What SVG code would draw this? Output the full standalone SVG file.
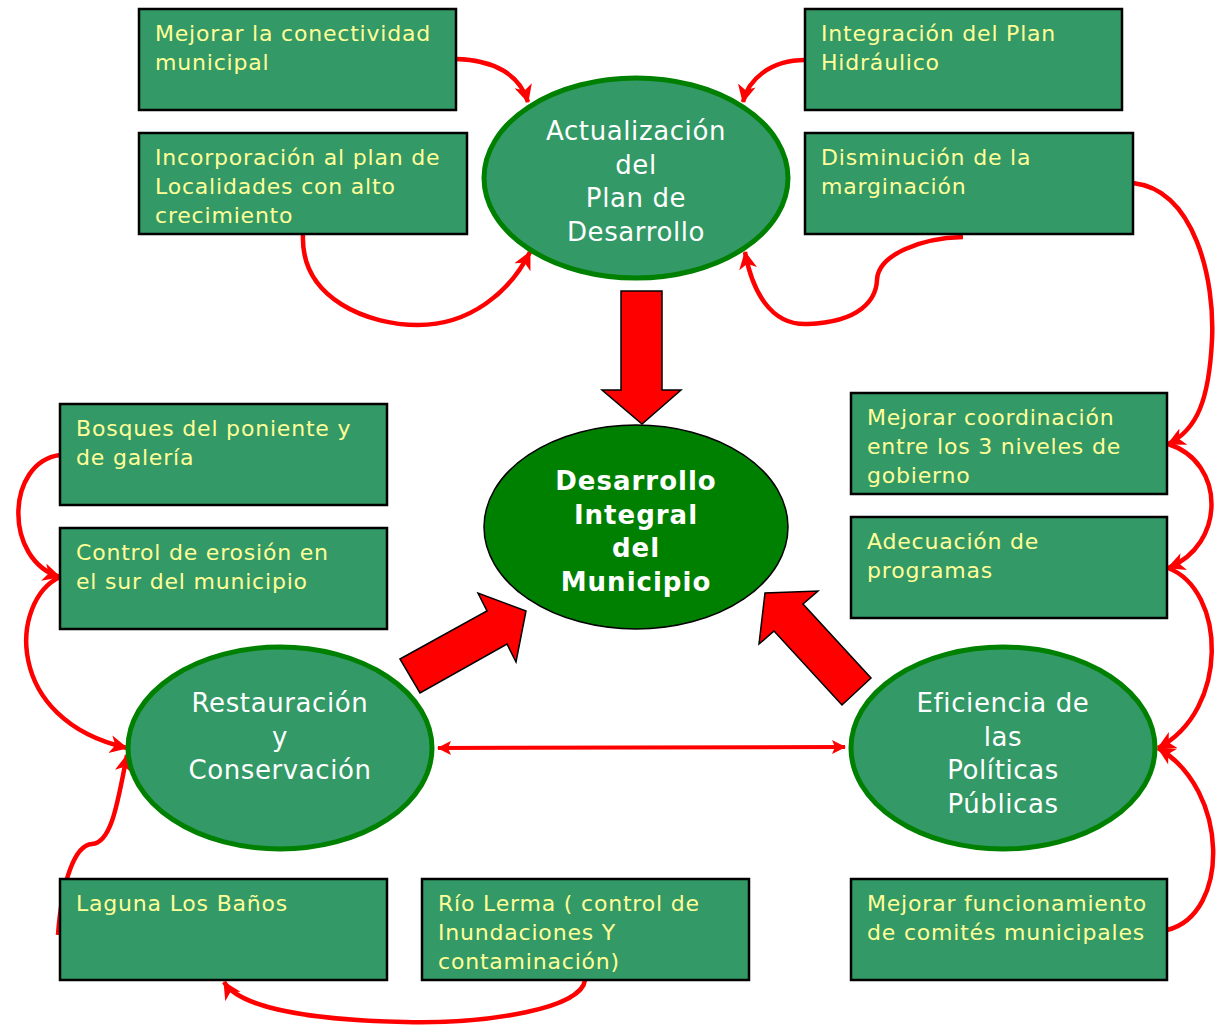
<svg xmlns="http://www.w3.org/2000/svg" width="1217" height="1026" viewBox="0 0 1217 1026">
<style>
.box{fill:#339966;stroke:#000;stroke-width:2.5}
.bt{font-family:"DejaVu Sans",Verdana,sans-serif;font-size:22px;letter-spacing:0.8px;fill:#FFFF99}
.ell{fill:#339966;stroke:#008000;stroke-width:5}
.et{font-family:"DejaVu Sans",Verdana,sans-serif;font-size:26px;letter-spacing:0.6px;fill:#fff;text-anchor:middle}
.ct{font-family:"DejaVu Sans",Verdana,sans-serif;font-size:26px;letter-spacing:1px;font-weight:bold;fill:#fff;text-anchor:middle}
.con{fill:none;stroke:#ff0000;stroke-width:4.5;marker-end:url(#ah)}
.big{fill:#ff0000;stroke:#000;stroke-width:1.5}
</style>
<defs>
<marker id="ah" markerUnits="userSpaceOnUse" markerWidth="22" markerHeight="20" refX="17" refY="9" orient="auto">
<path d="M0,0 L18,9 L0,18 L5,9 Z" fill="#ff0000"/>
</marker>
<marker id="ah2" markerUnits="userSpaceOnUse" markerWidth="16" markerHeight="14" refX="13" refY="7" orient="auto-start-reverse">
<path d="M0,0 L14,7 L0,14 L3,7 Z" fill="#ff0000"/>
</marker>
</defs>
<rect width="1217" height="1026" fill="#fff"/>
<g id="connectors">
<path class="con" d="M456,59 C495,60 520,75 528,102"/>
<path class="con" d="M805,60 C770,60 748,80 743,102"/>
<path class="con" d="M303,234 C300,300 370,325 418,325 C470,325 510,292 530,252"/>
<path class="con" d="M963,237 C920,238 878,255 877,280 C876,300 860,322 808,324 C770,326 752,290 745,252"/>
<path class="con" d="M1133,183 C1195,190 1215,280 1212,340 C1209,400 1197,430 1168,444"/>
<path class="con" d="M1168,444 C1226,462 1226,545 1168,568"/>
<path class="con" d="M1168,568 C1226,590 1230,710 1158,748"/>
<path class="con" d="M1167,930 C1230,915 1230,790 1158,748"/>
<path class="con" d="M60,455 C6,462 3,560 60,577"/>
<path class="con" d="M60,577 C10,600 3,720 127,748"/>
<path class="con" d="M58,935 C62,880 75,845 92,844 C112,843 118,800 127,755"/>
<path class="con" d="M585,980 C582,1008 490,1024 405,1022 C310,1020 240,1008 224,982"/>
<path d="M438,748 L845,747" fill="none" stroke="#ff0000" stroke-width="4" marker-start="url(#ah2)" marker-end="url(#ah2)"/>
<polygon class="big" points="621,291 662,291 662,390 681,390 642,424 602,390 621,390"/>
<polygon class="big" points="400,659 487,611 478,593 526,611 516,662 507,644 420,693"/>
<polygon class="big" points="759,644 765,593 818,591 803,604 871,678 842,705 774,631"/>
</g>
<g id="n-conectividad"><rect class="box" x="139" y="9" width="317" height="101"/><text class="bt" x="155" y="41">Mejorar la conectividad<tspan x="155" dy="29">municipal</tspan></text></g>
<g id="n-hidraulico"><rect class="box" x="805" y="9" width="317" height="101"/><text class="bt" x="821" y="41">Integración del Plan<tspan x="821" dy="29">Hidráulico</tspan></text></g>
<g id="n-localidades"><rect class="box" x="139" y="133" width="328" height="101"/><text class="bt" x="155" y="165">Incorporación al plan de<tspan x="155" dy="29">Localidades con alto</tspan><tspan x="155" dy="29">crecimiento</tspan></text></g>
<g id="n-marginacion"><rect class="box" x="805" y="133" width="328" height="101"/><text class="bt" x="821" y="165">Disminución de la<tspan x="821" dy="29">marginación</tspan></text></g>
<g id="n-coordinacion"><rect class="box" x="851" y="393" width="316" height="101"/><text class="bt" x="867" y="425">Mejorar coordinación<tspan x="867" dy="29">entre los 3 niveles de</tspan><tspan x="867" dy="29">gobierno</tspan></text></g>
<g id="n-programas"><rect class="box" x="851" y="517" width="316" height="101"/><text class="bt" x="867" y="549">Adecuación de<tspan x="867" dy="29">programas</tspan></text></g>
<g id="n-bosques"><rect class="box" x="60" y="404" width="327" height="101"/><text class="bt" x="76" y="436">Bosques del poniente y<tspan x="76" dy="29">de galería</tspan></text></g>
<g id="n-erosion"><rect class="box" x="60" y="528" width="327" height="101"/><text class="bt" x="76" y="560">Control de erosión en<tspan x="76" dy="29">el sur del municipio</tspan></text></g>
<g id="n-laguna"><rect class="box" x="60" y="879" width="327" height="101"/><text class="bt" x="76" y="911">Laguna Los Baños</text></g>
<g id="n-lerma"><rect class="box" x="422" y="879" width="327" height="101"/><text class="bt" x="438" y="911">Río Lerma ( control de<tspan x="438" dy="29">Inundaciones Y</tspan><tspan x="438" dy="29">contaminación)</tspan></text></g>
<g id="n-comites"><rect class="box" x="851" y="879" width="316" height="101"/><text class="bt" x="867" y="911">Mejorar funcionamiento<tspan x="867" dy="29">de comités municipales</tspan></text></g>
<g id="n-actualizacion"><ellipse class="ell" cx="636" cy="178" rx="152" ry="100"/><text class="et" x="636" y="140">Actualización<tspan x="636" dy="33.5">del</tspan><tspan x="636" dy="33.5">Plan de</tspan><tspan x="636" dy="33.5">Desarrollo</tspan></text></g>
<g id="n-desarrollo"><ellipse cx="636" cy="527" rx="152" ry="102" fill="#008000" stroke="#000" stroke-width="1.5"/><text class="ct" x="636" y="490">Desarrollo<tspan x="636" dy="33.5">Integral</tspan><tspan x="636" dy="33.5">del</tspan><tspan x="636" dy="33.5">Municipio</tspan></text></g>
<g id="n-restauracion"><ellipse class="ell" cx="280" cy="748" rx="152" ry="101"/><text class="et" x="280" y="712">Restauración<tspan x="280" dy="33.5">y</tspan><tspan x="280" dy="33.5">Conservación</tspan></text></g>
<g id="n-eficiencia"><ellipse class="ell" cx="1003" cy="748" rx="152" ry="101"/><text class="et" x="1003" y="712">Eficiencia de<tspan x="1003" dy="33.5">las</tspan><tspan x="1003" dy="33.5">Políticas</tspan><tspan x="1003" dy="33.5">Públicas</tspan></text></g>
</svg>
